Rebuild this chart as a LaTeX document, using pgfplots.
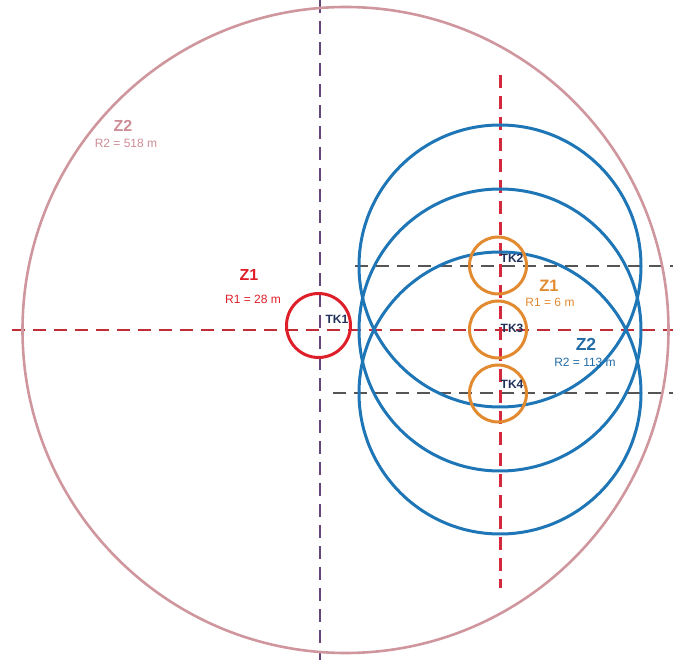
\documentclass[border=0pt]{standalone}
\usepackage{pgfplots}
\pgfplotsset{compat=1.18}
\usepackage{fontspec}
\setmainfont{Liberation Sans}
\definecolor{pinkc}{RGB}{208,150,158}
\definecolor{pinkt}{RGB}{205,140,150}
\definecolor{redc}{RGB}{222,30,40}
\definecolor{orc}{RGB}{226,138,48}
\definecolor{bluec}{RGB}{30,118,182}
\definecolor{bluet}{RGB}{35,108,165}
\definecolor{navy}{RGB}{32,48,90}
\definecolor{purp}{RGB}{100,70,125}
\definecolor{grayd}{RGB}{85,85,85}
\definecolor{redd}{RGB}{192,45,55}
\definecolor{redv}{RGB}{214,40,60}
\begin{document}
\begin{tikzpicture}
\begin{axis}[
  width=673pt, height=660pt, scale only axis,
  xmin=0, xmax=673, ymin=0, ymax=660, y dir=reverse,
  hide axis, clip=true,
]
% dashed lines
\addplot[purp, line width=2.1pt, dash pattern=on 13pt off 8pt] coordinates {(320,0) (320,660)};
\addplot[redd, line width=2.1pt, dash pattern=on 13pt off 8pt] coordinates {(12,330) (673,330)};
\addplot[grayd, line width=2pt, dash pattern=on 13pt off 8pt] coordinates {(355,266) (673,266)};
\addplot[grayd, line width=2pt, dash pattern=on 13pt off 8pt] coordinates {(333,393) (673,393)};
\addplot[redv, line width=2.1pt, dash pattern=on 13pt off 8pt] coordinates {(500.5,75) (500.5,588)};
% circles
\draw[pinkc, line width=2.6pt] (axis cs:345.5,330) circle[radius=323];
\draw[redc, line width=3pt] (axis cs:318.5,325.5) circle[radius=32];
\draw[bluec, line width=3pt] (axis cs:500,266) circle[radius=141];
\draw[bluec, line width=3pt] (axis cs:500,330) circle[radius=141];
\draw[bluec, line width=3pt] (axis cs:500,393) circle[radius=141];
\draw[orc, line width=3pt] (axis cs:498,265.5) circle[radius=28.5];
\draw[orc, line width=3pt] (axis cs:498,329.5) circle[radius=28.5];
\draw[orc, line width=3pt] (axis cs:498,393.5) circle[radius=28.5];
% labels
\node[pinkt, font=\bfseries\fontsize{16}{16}\selectfont] at (axis cs:123,126) {Z2};
\node[pinkt, font=\fontsize{12}{12}\selectfont] at (axis cs:126,143) {R2 = 518 m};
\node[redc, font=\bfseries\fontsize{16}{16}\selectfont] at (axis cs:249,275) {Z1};
\node[redc, font=\fontsize{12}{12}\selectfont] at (axis cs:253,299) {R1 = 28 m};
\node[navy, font=\bfseries\fontsize{12}{12}\selectfont] at (axis cs:337,319.5) {TK1};
\node[navy, font=\bfseries\fontsize{12}{12}\selectfont] at (axis cs:512,258) {TK2};
\node[navy, font=\bfseries\fontsize{12}{12}\selectfont] at (axis cs:512,328) {TK3};
\node[navy, font=\bfseries\fontsize{12}{12}\selectfont] at (axis cs:512,384) {TK4};
\node[orc, font=\bfseries\fontsize{16.5}{17}\selectfont] at (axis cs:549,286) {Z1};
\node[orc, font=\fontsize{12}{12}\selectfont] at (axis cs:550,302.5) {R1 = 6 m};
\node[bluet, font=\bfseries\fontsize{17.5}{18}\selectfont] at (axis cs:586,344.5) {Z2};
\node[bluet, font=\fontsize{12}{12}\selectfont] at (axis cs:585,362) {R2 = 113 m};
\end{axis}
\pgfresetboundingbox
\path (current axis.south west) rectangle (current axis.north east);
\end{tikzpicture}
\end{document}
